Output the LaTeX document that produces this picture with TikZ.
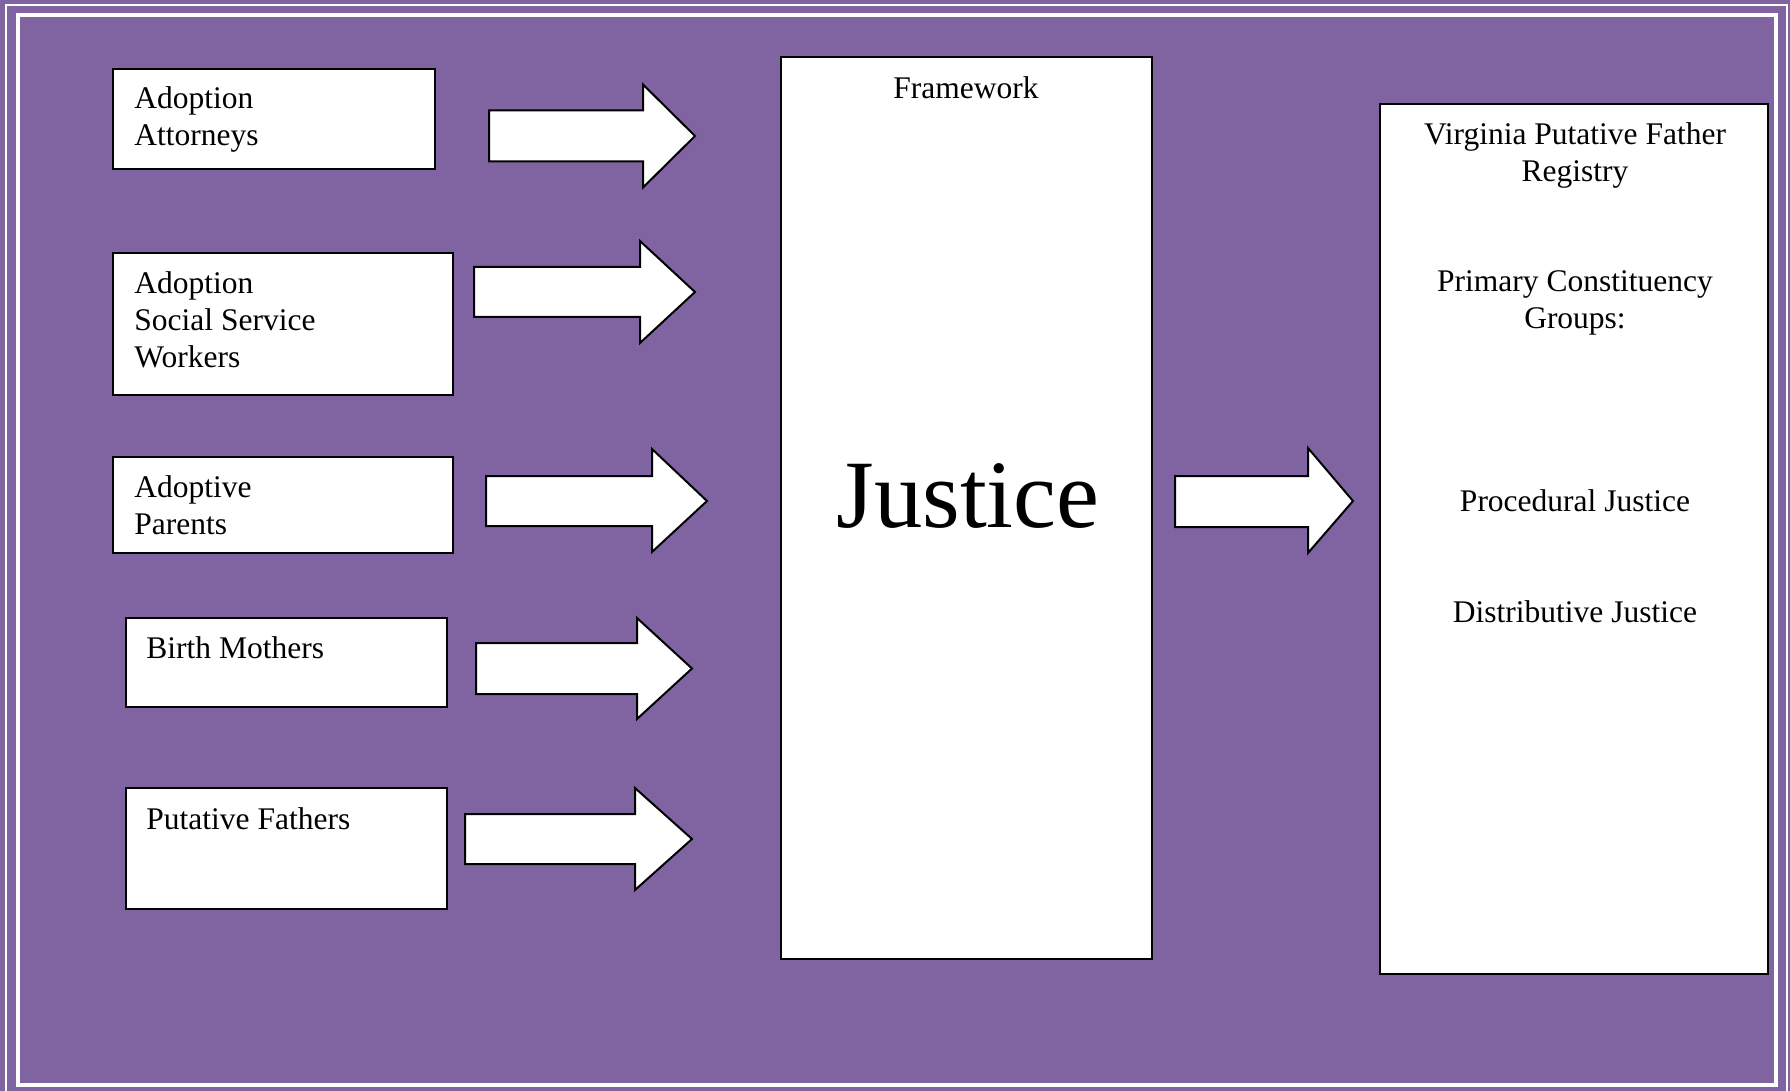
\documentclass[tikz,border=0pt]{standalone}
\usepackage{fontspec}
\setmainfont{Liberation Serif}
\definecolor{framepurple}{HTML}{8064A2}
\tikzset{
  groupbox/.style={draw=black, fill=white, line width=1pt, inner sep=0pt},
  boxtext/.style={font=\fontsize{15.75}{18.5}\selectfont, inner sep=0pt},
  blockarrow/.style={draw=black, fill=white, line width=1pt, line join=miter},
}
\begin{document}
\begin{tikzpicture}[x=0.5pt, y=-0.5pt]
    \useasboundingbox (0,0) rectangle (1790,1091);
    % background and frame
    \fill[framepurple] (0,0) rectangle (1790,1091);
    \draw[white, line width=0.6pt] (6,5) rectangle (1787,1095);
    \draw[white, line width=2pt] (17.5,15) rectangle (1776,1085);

    % groups on the left
    \node[groupbox, minimum width=161pt, minimum height=50pt] (attorneys) at (274,119) {};
    \node[groupbox, minimum width=170pt, minimum height=71pt] (workers) at (283,324) {};
    \node[groupbox, minimum width=170pt, minimum height=48pt] (parents) at (283,505) {};
    \node[groupbox, minimum width=160.5pt, minimum height=44.5pt] (mothers) at (286.5,662.5) {};
    \node[groupbox, minimum width=160.5pt, minimum height=60.5pt] (fathers) at (286.5,848.5) {};
    % base is the last line
    \node[boxtext, anchor=base west, align=left] (attorneysText) at (134,146) {Adoption\\Attorneys};
    \node[boxtext, anchor=base west, align=left] (workersText) at (134,368) {Adoption\\Social Service\\Workers};
    \node[boxtext, anchor=base west, align=left] (parentsText) at (134,534) {Adoptive\\Parents};
    \node[boxtext, anchor=base west] (mothersText) at (146,658) {Birth Mothers};
    \node[boxtext, anchor=base west] (fathersText) at (146,829) {Putative Fathers};

    % framework in the middle
    \node[groupbox, minimum width=185.5pt, minimum height=451pt] (framework) at (966.5,508) {};
    \node[boxtext, anchor=base] (frameworkText) at (966,98.5) {Framework};
    \node[inner sep=0pt, anchor=base, font=\fontsize{48.3}{58}\selectfont] (justice) at (968,527) {Justice};

    % registry on the right
    \node[groupbox, minimum width=194pt, minimum height=435pt] (registry) at (1574,539) {};
    \node[boxtext, anchor=base, align=center] (registryText) at (1575,181.5) {Virginia Putative Father\\Registry};
    \node[boxtext, anchor=base, align=center] (groupsText) at (1575,328.5) {Primary Constituency\\Groups:};
    \node[boxtext, anchor=base] (proceduralText) at (1575,511.5) {Procedural Justice};
    \node[boxtext, anchor=base] (distributiveText) at (1575,622.5) {Distributive Justice};

    % block arrows
    \draw[blockarrow] (489,110.5) -- (643,110.5) -- (643,84.5) -- (695,136) -- (643,187.5) -- (643,161.5) -- (489,161.5) -- cycle;
    \draw[blockarrow] (474,267) -- (640,267) -- (640,241) -- (695,292) -- (640,343) -- (640,317) -- (474,317) -- cycle;
    \draw[blockarrow] (486,476) -- (652,476) -- (652,449) -- (707,501) -- (652,552) -- (652,526) -- (486,526) -- cycle;
    \draw[blockarrow] (476,643) -- (637,643) -- (637,618) -- (692,668.5) -- (637,719) -- (637,694) -- (476,694) -- cycle;
    \draw[blockarrow] (465,814) -- (635,814) -- (635,788) -- (692,839) -- (635,890) -- (635,864) -- (465,864) -- cycle;
    \draw[blockarrow] (1175,476) -- (1308,476) -- (1308,448) -- (1353,501) -- (1308,553) -- (1308,527) -- (1175,527) -- cycle;
\end{tikzpicture}
\end{document}
